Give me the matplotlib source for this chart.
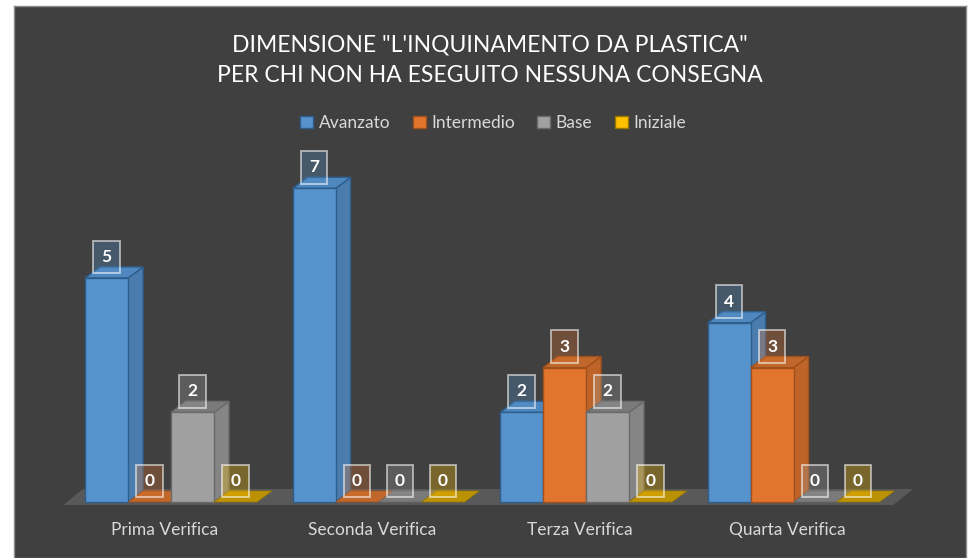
import matplotlib.pyplot as plt
from matplotlib.patches import Polygon, Patch
from matplotlib.colors import to_rgba

# data
categories = ["Prima Verifica", "Seconda Verifica", "Terza Verifica", "Quarta Verifica"]
series_names = ["Avanzato", "Intermedio", "Base", "Iniziale"]
avanzato = [5, 7, 2, 4]
intermedio = [0, 0, 3, 3]
base = [2, 0, 2, 0]
iniziale = [0, 0, 0, 0]
values = [avanzato, intermedio, base, iniziale]

title_1 = "DIMENSIONE \"L'INQUINAMENTO DA PLASTICA\""
title_2 = "PER CHI NON HA ESEGUITO NESSUNA CONSEGNA"

# colours: front, side, top, edge
front = ["#5693CC", "#E2752D", "#A0A0A0", "#FFC000"]
side = ["#4A7DAD", "#BF6428", "#858585", "#C99A00"]
top = ["#4F88BE", "#C0682B", "#7A7A7A", "#BC9205"]
edge = ["#2E5E8C", "#A0501C", "#6A6A6A", "#9A7800"]

bg = "#404040"
txt = "#D9D9D9"
fonts = ["Lato", "DejaVu Sans"]

fig = plt.figure(figsize=(9.68, 5.58), dpi=100, facecolor="white")
ax = fig.add_axes([14 / 968, 0, 952 / 968, 552 / 558])
ax.set_facecolor(bg)
for s in ax.spines.values():
    s.set_color("#8C8C8C")
    s.set_linewidth(1.0)
ax.set_xlim(-0.757, 3.831)
ax.set_ylim(-1.25, 11.07)
ax.set_xticks([])
ax.set_yticks([])

w = 0.207
dx, dy = 0.072, 0.246

# floor
fx0, fx1, fy = -0.52, 3.48, -0.067
fdx, fdy = 0.096, 0.357
ax.add_patch(Polygon([(fx0, fy), (fx1, fy), (fx1 + fdx, fy + fdy), (fx0 + fdx, fy + fdy)],
                     closed=True, facecolor="#595959", edgecolor="none", zorder=1))

z = 2
for i, cat in enumerate(categories):
    for k in range(len(series_names)):
        v = values[k][i]
        x0 = i + (k - 2) * w
        x1 = x0 + w
        if v > 0:
            ax.bar(x0, v, width=w, align="edge", color=front[k], edgecolor=edge[k],
                   linewidth=1.0, zorder=z)
            ax.add_patch(Polygon([(x1, 0), (x1 + dx, dy), (x1 + dx, v + dy), (x1, v)],
                                 closed=True, facecolor=side[k], edgecolor=edge[k],
                                 linewidth=1.0, zorder=z - 0.5))
        ax.add_patch(Polygon([(x0, v), (x1, v), (x1 + dx, v + dy), (x0 + dx, v + dy)],
                             closed=True, facecolor=top[k], edgecolor=edge[k],
                             linewidth=1.0 if v > 0 else 0.5, zorder=z - 0.4))
        z += 1

# data labels
for i in range(len(categories)):
    for k in range(len(series_names)):
        v = values[k][i]
        xc = i + (k - 2) * w + w / 2
        ax.text(xc, v + 0.47, str(v), ha="center", va="center", color="white",
                fontsize=12.5, fontweight="bold", family=fonts, zorder=100,
                bbox=dict(boxstyle="square,pad=0.48", facecolor=to_rgba(front[k], 0.3),
                          edgecolor=(1, 1, 1, 0.55), linewidth=1.4))

# category labels
for i, cat in enumerate(categories):
    ax.text(i - 0.03, -0.625, cat, ha="center", va="center", color=txt,
            fontsize=12.5, family=fonts)

# title
fig.text(490 / 968, 1 - 45 / 558, title_1, ha="center", va="center", color="white",
         fontsize=16.5, family=fonts)
fig.text(490 / 968, 1 - 75 / 558, title_2, ha="center", va="center", color="white",
         fontsize=16.5, family=fonts)

# legend
handles = [Patch(facecolor=front[k], edgecolor=edge[k], label=series_names[k])
           for k in range(len(series_names))]
leg = fig.legend(handles=handles, loc="center", bbox_to_anchor=(493 / 968, 1 - 123 / 558),
                 ncol=4, frameon=False, handlelength=0.75, handleheight=0.75,
                 handletextpad=0.3, columnspacing=1.3, prop={"family": fonts, "size": 12.5})
for t in leg.get_texts():
    t.set_color(txt)

fig.savefig("out.png", dpi=100, facecolor="white")
